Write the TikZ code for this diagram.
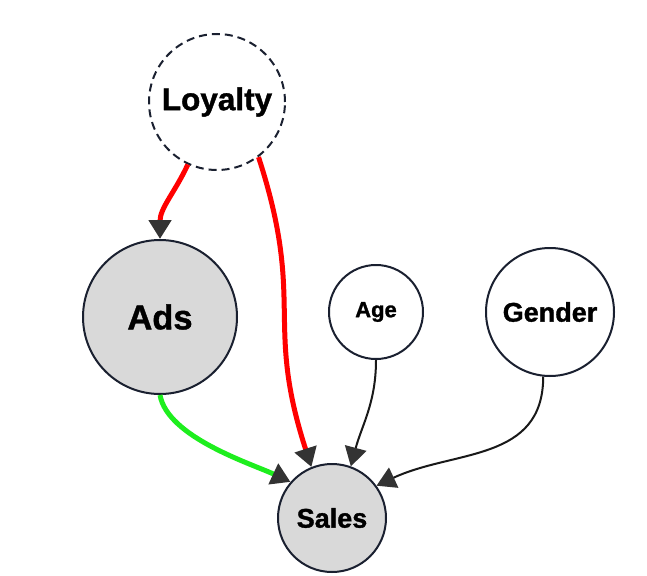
\documentclass[tikz,border=0pt]{standalone}
\usepackage{fontspec}
\setmainfont{Liberation Sans}[BoldFeatures={FakeBold=1.2}]
\usepackage{xcolor}
\usetikzlibrary{arrows.meta}
\definecolor{nodegray}{HTML}{D9D9D9}
\definecolor{tipgray}{HTML}{333333}
\definecolor{rim}{HTML}{1A2030}
\definecolor{confred}{HTML}{FF0000}
\definecolor{causegreen}{HTML}{1EEE1E}

\begin{document}
\begin{tikzpicture}[x=1pt, y=-1pt,
    var/.style={circle, draw=rim, line width=2pt, inner sep=0pt, font=\bfseries},
    shaded/.style={var, fill=nodegray},
    link/.style={line width=#1, -{Triangle[width=22pt 0, length=19pt 0, color=tipgray, fill=tipgray]}},
    link/.default=2pt]
  	\useasboundingbox (0,0) rectangle (647,575);
  	\node[var, dashed, dash pattern=on 8pt off 5pt, minimum size=136pt, font=\bfseries\fontsize{31.5}{36}\selectfont] (loyalty) at (217,102) {Loyalty};
  	\node[shaded, minimum size=154pt, font=\bfseries\fontsize{34.5}{40}\selectfont] (ads) at (160,317) {Ads};
  	\node[var, minimum size=94pt, font=\bfseries\fontsize{22}{25}\selectfont] (age) at (376,312) {Age};
  	\node[var, minimum size=128pt, font=\bfseries\fontsize{27}{32}\selectfont] (gender) at (550,312) {Gender};
  	\node[shaded, minimum size=108pt, font=\bfseries\fontsize{27}{32}\selectfont] (sales) at (332,518) {Sales};
  	\draw[link=5pt, color=confred] (loyalty.245) to[out=245, in=90] (ads.north);
  	\draw[link=5pt, color=confred] (loyalty.-53) to[out=-72, in=108, looseness=1.25] (sales.112);
  	\draw[link=5pt, color=causegreen] (ads.south) to[out=-80, in=155, looseness=0.7] (sales.139);
  	\draw[link, color=black!90] (age.south) to[out=-90, in=75] (sales.70);
  	\draw[link, color=black!90] (gender.-96) to[out=-90, in=25, looseness=1.1] (sales.36);
\end{tikzpicture}
\end{document}
